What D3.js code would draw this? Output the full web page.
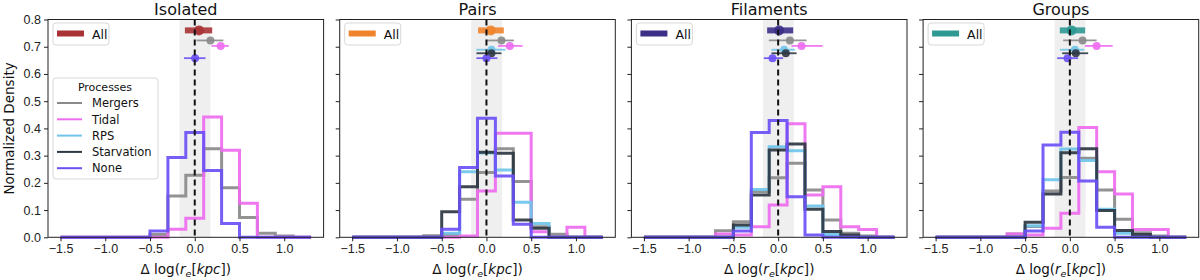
<!DOCTYPE html>
<meta charset="utf-8">
<style>
    body { margin: 0; background: #fff; }
    svg { font-family: "DejaVu Sans", sans-serif; }
    .tick text { font-size: 12.5px; fill: #222; }
    .tick line { stroke: #222; }
    .domain { display: none; }
</style>
<svg width="1200" height="280"></svg>
<script src="https://cdn.jsdelivr.net/npm/d3@7"></script>
<script>

    // histogram bins (Δ log r_e), width 0.2
    var binEdges = [-1.5, -1.3, -1.1, -0.9, -0.7, -0.5, -0.3, -0.1, 0.1, 0.3, 0.5, 0.7, 0.9, 1.1, 1.3];

    var environments = ["Isolated", "Pairs", "Filaments", "Groups"];
    var processes = ["Mergers", "Tidal", "RPS", "Starvation", "None"];

    // normalized density per bin
    var isolatedMergers = [0, 0, 0, 0, 0, 0.010, 0.152, 0.228, 0.325, 0.182, 0.073, 0.015, 0.005, 0];
    var isolatedTidal = [0, 0, 0, 0, 0, 0, 0.030, 0.070, 0.442, 0.320, 0.125, 0, 0, 0];
    var isolatedNone = [0, 0, 0, 0, 0, 0.023, 0.293, 0.385, 0.245, 0.051, 0, 0, 0, 0];

    var pairsMergers = [0, 0, 0, 0, 0.006, 0.010, 0.140, 0.238, 0.325, 0.205, 0.039, 0.011, 0, 0];
    var pairsTidal = [0, 0, 0, 0, 0, 0, 0.005, 0.170, 0.382, 0.382, 0.020, 0, 0.037, 0];
    var pairsRPS = [0, 0, 0, 0, 0, 0.015, 0.241, 0.310, 0.247, 0.129, 0.051, 0, 0, 0];
    var pairsStarvation = [0, 0, 0, 0, 0, 0.094, 0.186, 0.312, 0.309, 0.064, 0.033, 0, 0, 0];
    var pairsNone = [0, 0, 0, 0, 0, 0.030, 0.256, 0.437, 0.225, 0.048, 0, 0, 0, 0];

    var filamentsMergers = [0, 0, 0, 0, 0.024, 0.057, 0.168, 0.219, 0.272, 0.174, 0.064, 0.015, 0.005, 0];
    var filamentsTidal = [0, 0, 0, 0, 0.012, 0.008, 0.039, 0.119, 0.417, 0.155, 0.186, 0.039, 0.029, 0];
    var filamentsRPS = [0, 0, 0, 0, 0, 0.037, 0.176, 0.333, 0.318, 0.115, 0.010, 0, 0, 0];
    var filamentsStarvation = [0, 0, 0, 0, 0, 0.045, 0.155, 0.321, 0.343, 0.103, 0.021, 0.008, 0, 0];
    var filamentsNone = [0, 0, 0, 0, 0, 0.023, 0.385, 0.429, 0.149, 0.008, 0, 0, 0, 0];

    var groupsMergers = [0, 0, 0, 0, 0.012, 0.040, 0.170, 0.220, 0.290, 0.174, 0.066, 0.017, 0.005, 0];
    var groupsTidal = [0, 0, 0, 0, 0.012, 0.008, 0.033, 0.088, 0.403, 0.241, 0.159, 0.029, 0.029, 0];
    var groupsRPS = [0, 0, 0, 0, 0, 0.042, 0.211, 0.324, 0.282, 0.103, 0.015, 0, 0, 0];
    var groupsStarvation = [0, 0, 0, 0, 0, 0.055, 0.159, 0.311, 0.325, 0.098, 0.025, 0.010, 0, 0];
    var groupsNone = [0, 0, 0, 0, 0, 0.023, 0.339, 0.386, 0.207, 0.037, 0, 0, 0, 0];

    // median and spread: [median, low, high]
    var isolatedSummary = { All: [0.048, -0.11, 0.195], Mergers: [0.175, 0.02, 0.32], Tidal: [0.29, 0.187, 0.38], None: [0.004, -0.12, 0.12] };
    var pairsSummary = { All: [0.048, -0.094, 0.194], Mergers: [0.168, 0.007, 0.306], Tidal: [0.261, 0.13, 0.403], RPS: [0.056, -0.112, 0.213], Starvation: [0.056, -0.112, 0.168], None: [0.0, -0.112, 0.123] };
    var filamentsSummary = { All: [0.011, -0.123, 0.168], Mergers: [0.131, -0.104, 0.318], Tidal: [0.262, 0.15, 0.497], RPS: [0.067, -0.074, 0.187], Starvation: [0.086, -0.074, 0.206], None: [-0.063, -0.16, 0.056] };
    var groupsSummary = { All: [0.019, -0.112, 0.171], Mergers: [0.142, -0.075, 0.299], Tidal: [0.299, 0.168, 0.478], RPS: [0.056, -0.112, 0.16], Starvation: [0.067, -0.086, 0.205], None: [-0.026, -0.142, 0.093] };

    var xTicks = [-1.5, -1.0, -0.5, 0.0, 0.5, 1.0];
    var yTicks = [0, 0.1, 0.2, 0.3, 0.4, 0.5, 0.6, 0.7, 0.8];

    var hists = [
        { Mergers: isolatedMergers, Tidal: isolatedTidal, None: isolatedNone },
        { Mergers: pairsMergers, Tidal: pairsTidal, RPS: pairsRPS, Starvation: pairsStarvation, None: pairsNone },
        { Mergers: filamentsMergers, Tidal: filamentsTidal, RPS: filamentsRPS, Starvation: filamentsStarvation, None: filamentsNone },
        { Mergers: groupsMergers, Tidal: groupsTidal, RPS: groupsRPS, Starvation: groupsStarvation, None: groupsNone }
    ];
    var summaries = [isolatedSummary, pairsSummary, filamentsSummary, groupsSummary];

    var procColor = { Mergers: "#8a8a8a", Tidal: "#ee6cf0", RPS: "#70c4ea", Starvation: "#2e3742", None: "#6a50f6" };
    var allColor = ["#a83234", "#f0842c", "#3b2f88", "#2e9893"];
    var rowY = { All: 0.76, Mergers: 0.723, Tidal: 0.703, RPS: 0.689, Starvation: 0.676, None: 0.658 };

    var svg = d3.select("svg");
    var panelW = 275.6, step = 291.7, plotTop = 19.5, plotBottom = 237.3;

    environments.forEach(function (env, i) {
        var left = 48 + i * step;
        var x = d3.scaleLinear().domain([-1.64, 1.44]).range([left, left + panelW]);
        var y = d3.scaleLinear().domain([0, 0.8]).range([plotBottom, plotTop]);
        var g = svg.append("g");

        // shaded band
        g.append("rect")
            .attr("x", x(-0.17)).attr("width", x(0.175) - x(-0.17))
            .attr("y", plotTop).attr("height", plotBottom - plotTop)
            .attr("fill", "#efefef");

        // step histograms
        processes.forEach(function (p) {
            var vals = hists[i][p];
            if (!vals) return;
            var pts = [[binEdges[0], 0]];
            vals.forEach(function (v, k) {
                pts.push([binEdges[k], v]);
                pts.push([binEdges[k + 1], v]);
            });
            pts.push([binEdges[binEdges.length - 1], 0]);
            g.append("path")
                .attr("d", d3.line().x(function (d) { return x(d[0]); }).y(function (d) { return y(d[1]); })(pts))
                .attr("fill", "none")
                .attr("stroke", procColor[p])
                .attr("stroke-width", 3)
                .attr("stroke-opacity", 0.92);
        });

        // error bars
        var s = summaries[i];
        ["All"].concat(processes).forEach(function (p) {
            var v = s[p];
            if (!v) return;
            var c = p === "All" ? allColor[i] : procColor[p];
            var big = p === "All";
            g.append("line")
                .attr("x1", x(v[1])).attr("x2", x(v[2]))
                .attr("y1", y(rowY[p])).attr("y2", y(rowY[p]))
                .attr("stroke", c).attr("stroke-width", big ? 6 : 1.8)
                .attr("stroke-opacity", 0.9);
            g.append("circle")
                .attr("cx", x(v[0])).attr("cy", y(rowY[p]))
                .attr("r", big ? 5 : 4)
                .attr("fill", c).attr("fill-opacity", 0.9);
        });

        // zero line
        g.append("line")
            .attr("x1", x(0)).attr("x2", x(0)).attr("y1", plotTop).attr("y2", plotBottom)
            .attr("stroke", "#111").attr("stroke-width", 2).attr("stroke-dasharray", "6,4");

        // axes
        g.append("g").attr("transform", "translate(0," + plotBottom + ")")
            .call(d3.axisBottom(x).tickValues(xTicks).tickSize(4).tickPadding(3)
                .tickFormat(function (d) { return d3.format(".1f")(d).replace("-", "\u2212"); }));
        g.append("g").attr("transform", "translate(" + left + ",0)")
            .call(d3.axisLeft(y).tickValues(yTicks).tickSize(4).tickPadding(3)
                .tickFormat(i === 0 ? d3.format(".1f") : function () { return ""; }));

        g.append("rect")
            .attr("x", left).attr("y", plotTop).attr("width", panelW).attr("height", plotBottom - plotTop)
            .attr("fill", "none").attr("stroke", "#222").attr("stroke-width", 1);

        // title
        g.append("text")
            .attr("x", left + panelW / 2).attr("y", 15)
            .attr("text-anchor", "middle")
            .attr("font-size", 16).attr("fill", "#111")
            .text(env);

        // x label
        var xl = g.append("text")
            .attr("x", left + panelW / 2).attr("y", 274)
            .attr("text-anchor", "middle")
            .attr("font-size", 13.5).attr("fill", "#111");
        xl.append("tspan").text("\u0394 log(");
        xl.append("tspan").attr("font-style", "italic").text("r");
        xl.append("tspan").attr("font-style", "italic").attr("font-size", 9.5).attr("dy", 3).text("e");
        xl.append("tspan").attr("dy", -3).text("[");
        xl.append("tspan").attr("font-style", "italic").text("kpc");
        xl.append("tspan").text("])");

        // "All" legend
        var lg = g.append("g");
        lg.append("rect")
            .attr("x", left + 5).attr("y", 23).attr("width", 56).attr("height", 22)
            .attr("rx", 3).attr("fill", "#fff").attr("fill-opacity", 0.8)
            .attr("stroke", "#d8d8d8");
        lg.append("line")
            .attr("x1", left + 9).attr("x2", left + 36).attr("y1", 33.5).attr("y2", 33.5)
            .attr("stroke", allColor[i]).attr("stroke-width", 6);
        lg.append("text")
            .attr("x", left + 44).attr("y", 38.5)
            .attr("font-size", 12.5).attr("fill", "#111").text("All");

        // processes legend in first panel
        if (i === 0) {
            var pl = g.append("g");
            pl.append("rect")
                .attr("x", left + 5).attr("y", 78).attr("width", 105).attr("height", 101)
                .attr("rx", 3).attr("fill", "#fff").attr("fill-opacity", 0.8)
                .attr("stroke", "#d8d8d8");
            pl.append("text")
                .attr("x", left + 57).attr("y", 90.5).attr("text-anchor", "middle")
                .attr("font-size", 11).attr("fill", "#111").text("Processes");
            processes.forEach(function (p, k) {
                var yy = 103 + k * 16.3;
                pl.append("line")
                    .attr("x1", left + 9).attr("x2", left + 34).attr("y1", yy).attr("y2", yy)
                    .attr("stroke", procColor[p]).attr("stroke-width", 2);
                pl.append("text")
                    .attr("x", left + 44).attr("y", yy + 4.2)
                    .attr("font-size", 11.5).attr("fill", "#111").text(p);
            });
        }
    });

    // y label
    svg.append("text")
        .attr("transform", "translate(14," + ((plotTop + plotBottom) / 2) + ") rotate(-90)")
        .attr("text-anchor", "middle")
        .attr("font-size", 13.5).attr("fill", "#111")
        .text("Normalized Density");

</script>
